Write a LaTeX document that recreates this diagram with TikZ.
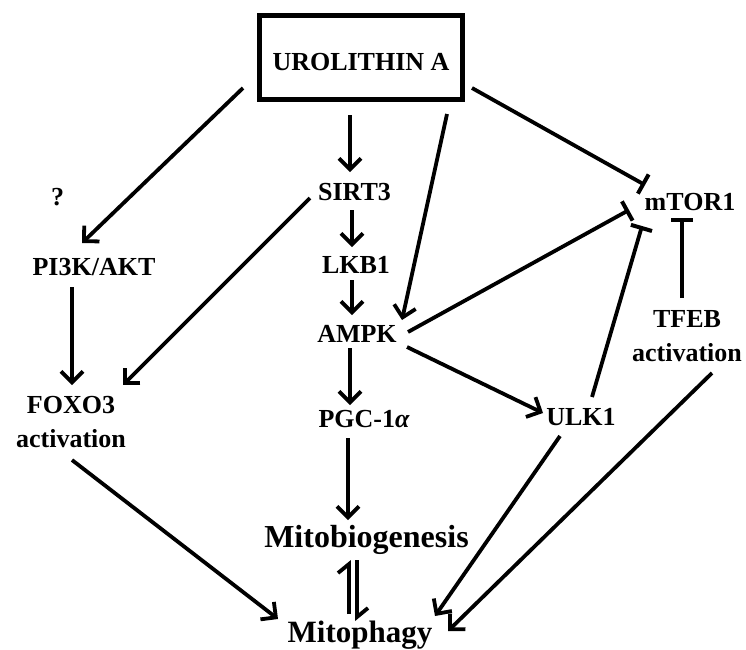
\documentclass[tikz,border=0pt]{standalone}
\usepackage{fontspec}
\setmainfont{Liberation Serif}
\usetikzlibrary{arrows.meta}
\begin{document}
\begin{tikzpicture}[x=1pt,y=-1pt,
  lbl/.style={font=\fontsize{26}{34}\selectfont\bfseries, inner sep=0pt, anchor=base},
  big/.style={font=\fontsize{32}{38}\selectfont\bfseries, inner sep=0pt, anchor=base},
  conn/.style={line width=3.8pt},
  arr/.style={conn, -{Straight Barb[length=11pt,width=22pt]}},
  inh/.style={conn, -{Bar[width=22pt,line width=4pt]}},
  harp/.style={conn, -{Straight Barb[harpoon,length=9pt,width=22pt]}}
]
\useasboundingbox (0,0) rectangle (746,649);
\clip (0,0) rectangle (746,649);
\fill[white] (0,0) rectangle (746,649);

\node[draw, line width=5pt, minimum width=203pt, minimum height=84pt, inner sep=0pt,
      text height=25pt, text depth=0pt,
      font=\fontsize{26}{34}\selectfont\bfseries] (ua) at (361,57.5) {UROLITHIN A};

\node[lbl] (sirt3) at (354.5,200) {SIRT3};
\node[lbl] (lkb1) at (356,273) {LKB1};
\node[lbl] (ampk) at (357,342) {AMPK};
\node[lbl] (pgc) at (364,427) {PGC-1{\itshape α}};
\node[lbl] (ulk1) at (581,425) {ULK1};
\node[lbl] (mtor) at (690,210) {mTOR1};
\node[lbl] (tfeb) at (687,327) {\begin{tabular}[t]{@{}c@{}}TFEB\\activation\end{tabular}};
\node[lbl] (pi3k) at (94,275) {PI3K/AKT};
\node[lbl] (q) at (57.5,205) {?};
\node[lbl] (foxo) at (71,413) {\begin{tabular}[t]{@{}c@{}}FOXO3\\activation\end{tabular}};
\node[big] (mitob) at (366.5,547) {Mitobiogenesis};
\node[big, font=\fontsize{31}{38}\selectfont\bfseries] (mitop) at (360,642) {Mitophagy};

% from Urolithin A
\draw[arr] ([shift={(-118,30.5)}]ua.center) -- ([shift={(-12,-32)}]pi3k.base);
\draw[arr] ([shift={(-11,57.5)}]ua.center) -- ([shift={(-4.5,-28)}]sirt3.base);
\draw[arr] ([shift={(86,56.5)}]ua.center) -- ([shift={(45,-22)}]ampk.base);
\draw[inh] ([shift={(111,30.5)}]ua.center) -- ([shift={(-45,-25)}]mtor.base);

% central chain
\draw[arr] ([shift={(-2.5,10)}]sirt3.base) -- ([shift={(-4,-26)}]lkb1.base);
\draw[arr] ([shift={(-4,7)}]lkb1.base) -- ([shift={(-5,-27)}]ampk.base);
\draw[arr] ([shift={(-7,6)}]ampk.base) -- ([shift={(-14,-22)}]pgc.base);
\draw[arr] ([shift={(50,5)}]ampk.base) -- ([shift={(-38,-12)}]ulk1.base);
\draw[inh] ([shift={(51,-10)}]ampk.base) -- ([shift={(-61,0)}]mtor.base);
\draw[inh] ([shift={(11,-28)}]ulk1.base) -- ([shift={(-48,16)}]mtor.base);
\draw[inh] ([shift={(-5,-29)}]tfeb.base) -- ([shift={(-8,8)}]mtor.base);

% to mitophagy
\draw[arr] ([shift={(25,46)}]tfeb.base) -- ([shift={(88,-11)}]mitop.base);
\draw[arr] ([shift={(-21,11)}]ulk1.base) -- ([shift={(75,-26)}]mitop.base);
\draw[arr] ([shift={(1,47)}]foxo.base) -- ([shift={(-82,-23)}]mitop.base);

% left branch
\draw[arr] ([shift={(-44.5,-2)}]sirt3.base) -- ([shift={(52,-28)}]foxo.base);
\draw[arr] ([shift={(-22,12)}]pi3k.base) -- ([shift={(1,-28)}]foxo.base);

% biogenesis
\draw[arr] ([shift={(-16,11)}]pgc.base) -- ([shift={(-18.5,-27)}]mitob.base);
\draw[harp] ([shift={(-11,-28)}]mitop.base) -- ([shift={(-17.5,13)}]mitob.base);
\draw[harp] ([shift={(-9.5,13)}]mitob.base) -- ([shift={(-3,-21)}]mitop.base);
\end{tikzpicture}
\end{document}
